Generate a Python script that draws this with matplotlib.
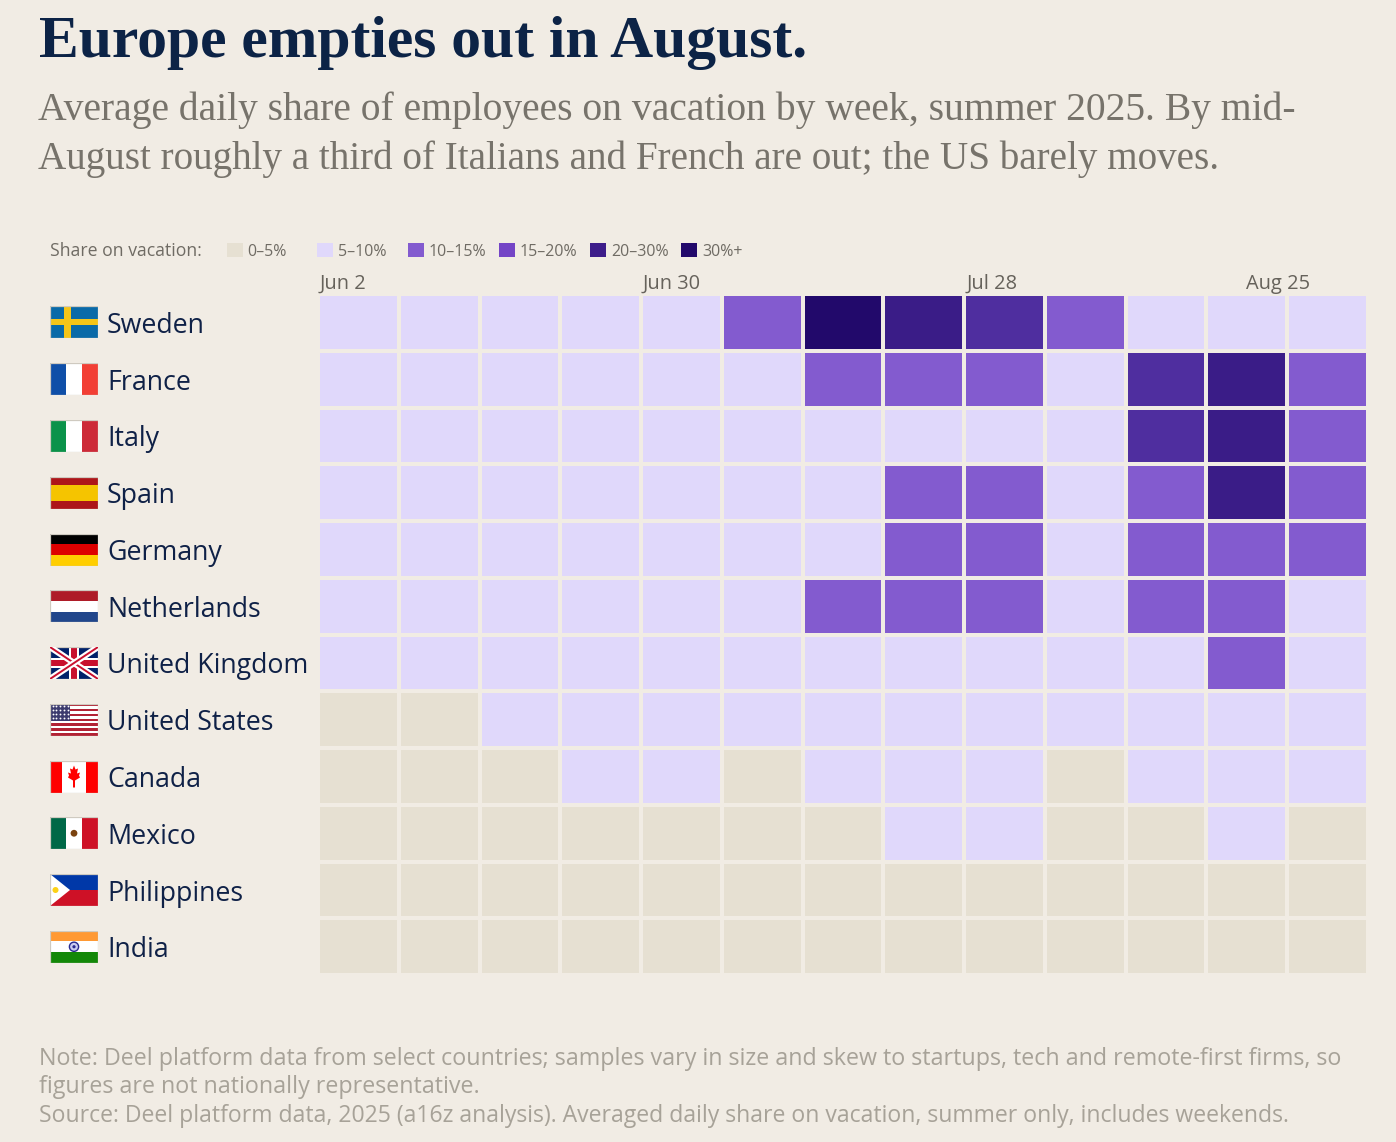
import matplotlib
matplotlib.use("Agg")
import matplotlib.pyplot as plt
import numpy as np
from matplotlib.colors import ListedColormap, BoundaryNorm
from matplotlib.patches import Rectangle, Polygon, Circle

W, H = 1396, 1142
BG = "#F1ECE4"
NAVY = "#0F2147"
SANS = "Open Sans"
SERIF = "Liberation Serif"

band_labels = ["0–5%", "5–10%", "10–15%", "15–20%", "20–30%", "30%+"]
band_colors = ["#E6E0D2", "#E0D8FB", "#835BCF", "#7445C6", "#3D1D8A", "#22096B"]
grid_colors = ["#E6E0D2", "#E0D8FB", "#835BCF", "#4F2E9F", "#3A1C87", "#22096B"]

countries = ["Sweden", "France", "Italy", "Spain", "Germany", "Netherlands",
             "United Kingdom", "United States", "Canada", "Mexico", "Philippines", "India"]
week_labels = {0: "Jun 2", 4: "Jun 30", 8: "Jul 28", 12: "Aug 25"}

# band index per week
sweden = [1, 1, 1, 1, 1, 2, 5, 4, 3, 2, 1, 1, 1]
france = [1, 1, 1, 1, 1, 1, 2, 2, 2, 1, 3, 4, 2]
italy = [1, 1, 1, 1, 1, 1, 1, 1, 1, 1, 3, 4, 2]
spain = [1, 1, 1, 1, 1, 1, 1, 2, 2, 1, 2, 4, 2]
germany = [1, 1, 1, 1, 1, 1, 1, 2, 2, 1, 2, 2, 2]
netherlands = [1, 1, 1, 1, 1, 1, 2, 2, 2, 1, 2, 2, 1]
uk = [1, 1, 1, 1, 1, 1, 1, 1, 1, 1, 1, 2, 1]
us = [0, 0, 1, 1, 1, 1, 1, 1, 1, 1, 1, 1, 1]
canada = [0, 0, 0, 1, 1, 0, 1, 1, 1, 0, 1, 1, 1]
mexico = [0, 0, 0, 0, 0, 0, 0, 1, 1, 0, 0, 1, 0]
philippines = [0] * 13
india = [0] * 13
rows = [sweden, france, italy, spain, germany, netherlands, uk, us, canada,
        mexico, philippines, india]

plt.rcParams["font.family"] = [SANS, "DejaVu Sans"]
fig = plt.figure(figsize=(W / 100, H / 100), dpi=100, facecolor=BG)
renderer = fig.canvas.get_renderer()


def px_axes(x0, y0, x1, y1):
    return fig.add_axes([x0 / W, 1 - y1 / H, (x1 - x0) / W, (y1 - y0) / H])


def ftext(x, y, s, **kw):
    return fig.text(x / W, 1 - y / H, s, va="baseline", ha="left", **kw)


def fit_size(s, width, **kw):
    # font size that makes s about width pixels wide
    t = fig.text(0, 0, s, fontsize=20, **kw)
    w = t.get_window_extent(renderer).width
    t.remove()
    return 20 * width / w


# heatmap
ax = px_axes(318, 294, 1368, 975)
ax.pcolormesh(np.array(rows), cmap=ListedColormap(grid_colors),
              norm=BoundaryNorm(np.arange(-0.5, 6), 6),
              edgecolors=BG, linewidth=2.8)
ax.set_ylim(len(rows), 0)
ax.set_xlim(0, 13)
ax.axis("off")

# week labels
week_size = fit_size("Jun 30", 58)
for i, lab in week_labels.items():
    x = 320 + 80.76 * i if i < 12 else 1246
    ftext(x, 289, lab, fontsize=week_size, color="#66625B")

# titles
title = "Europe empties out in August."
ftext(39, 57, title, family=SERIF, weight="bold",
      fontsize=fit_size(title, 771, family=SERIF, weight="bold"), color="#0C2346")
sub1 = "Average daily share of employees on vacation by week, summer 2025. By mid-"
sub2 = "August roughly a third of Italians and French are out; the US barely moves."
ftext(38, 120, sub1, family=SERIF, fontsize=fit_size(sub1, 1261, family=SERIF), color="#77736B")
ftext(38, 169, sub2, family=SERIF, fontsize=fit_size(sub2, 1181, family=SERIF), color="#77736B")

# legend
ftext(50, 255.5, "Share on vacation:", fontsize=fit_size("Share on vacation:", 151), color="#6F6B64")
legend_size = fit_size("15–20%", 58)
legend_x = [226.5, 317, 408, 499, 590, 681]
for x, c, lab in zip(legend_x, band_colors, band_labels):
    fig.patches.append(Rectangle((x / W, 1 - 257 / H), 16 / W, 14 / H, transform=fig.transFigure,
                                 facecolor=c, edgecolor="none"))
    ftext(x + 21, 255.5, lab, fontsize=legend_size, color="#6F6B64")


# flags
def stripes_h(a, cols, fracs=None):
    fracs = fracs or [1 / len(cols)] * len(cols)
    y = 0
    for c, f in zip(cols, fracs):
        a.add_patch(Rectangle((0, y), 48, 32 * f, fc=c, ec="none"))
        y += 32 * f


def stripes_v(a, cols, fracs=None):
    fracs = fracs or [1 / len(cols)] * len(cols)
    x = 0
    for c, f in zip(cols, fracs):
        a.add_patch(Rectangle((x, 0), 48 * f, 32, fc=c, ec="none"))
        x += 48 * f


def flag(a, name):
    if name == "Sweden":
        stripes_h(a, ["#0A6AA8"])
        a.add_patch(Rectangle((14, 0), 7, 32, fc="#F5C518", ec="none"))
        a.add_patch(Rectangle((0, 13), 48, 6, fc="#F5C518", ec="none"))
    elif name == "France":
        stripes_v(a, ["#0F4FA8", "#FFFFFF", "#F23F35"])
    elif name == "Italy":
        stripes_v(a, ["#0B924A", "#FFFFFF", "#CD2A38"])
    elif name == "Spain":
        stripes_h(a, ["#AD1519", "#F5C400", "#AD1519"], [0.25, 0.5, 0.25])
    elif name == "Germany":
        stripes_h(a, ["#000000", "#DD0000", "#FFCE00"])
    elif name == "Netherlands":
        stripes_h(a, ["#AE1C28", "#FFFFFF", "#21468B"])
    elif name == "United Kingdom":
        stripes_h(a, ["#012169"])
        for ys in ([0, 32], [32, 0]):
            a.plot([0, 48], ys, color="white", lw=4.5, solid_capstyle="butt")
            a.plot([0, 48], ys, color="#C8102E", lw=1.4, solid_capstyle="butt")
        a.add_patch(Rectangle((19, 0), 10, 32, fc="white", ec="none"))
        a.add_patch(Rectangle((0, 11), 48, 10, fc="white", ec="none"))
        a.add_patch(Rectangle((21, 0), 6, 32, fc="#C8102E", ec="none"))
        a.add_patch(Rectangle((0, 13), 48, 6, fc="#C8102E", ec="none"))
    elif name == "United States":
        stripes_h(a, ["#B22234", "#FFFFFF"] * 6 + ["#B22234"])
        a.add_patch(Rectangle((0, 0), 20, 17.2, fc="#3C3B6E", ec="none"))
        xs, ys = np.meshgrid(np.linspace(2.5, 17.5, 5), np.linspace(2.5, 14.5, 4))
        a.scatter(xs.ravel(), ys.ravel(), s=1.8, color="white", linewidths=0)
    elif name == "Canada":
        stripes_v(a, ["#FF0000", "#FFFFFF", "#FF0000"], [0.25, 0.5, 0.25])
        leaf = [(24, 5), (25.5, 9), (28, 8), (27, 13), (30, 12), (29, 15), (30, 17), (25, 20),
                (25, 27), (23, 27), (23, 20), (18, 17), (19, 15), (18, 12), (21, 13), (20, 8),
                (22.5, 9)]
        a.add_patch(Polygon(leaf, fc="#FF0000", ec="none"))
    elif name == "Mexico":
        stripes_v(a, ["#006847", "#FFFFFF", "#CE1126"])
        a.add_patch(Circle((24, 16), 3.4, fc="#7A4310", ec="none"))
    elif name == "Philippines":
        stripes_h(a, ["#0038A8", "#CE1126"])
        a.add_patch(Polygon([(0, 0), (20, 16), (0, 32)], fc="white", ec="none"))
        a.add_patch(Circle((5.5, 16), 3, fc="#FCD116", ec="none"))
    elif name == "India":
        stripes_h(a, ["#FF9933", "#FFFFFF", "#138808"])
        a.add_patch(Circle((24, 16), 4.6, fc="#C9CBEF", ec="#2A2A90", lw=1))
        a.add_patch(Circle((24, 16), 1.6, fc="#2A2A90", ec="none"))
    # thin light edge round every flag
    a.add_patch(Rectangle((0, 0), 48, 32, fc="none", ec="#CFCAC0", lw=0.9))


label_size = fit_size("United Kingdom", 201)
for i, name in enumerate(countries):
    yc = 322.5 + 56.75 * i
    fa = px_axes(50, yc - 16, 98, yc + 16)
    fa.set_xlim(0, 48)
    fa.set_ylim(32, 0)
    fa.axis("off")
    flag(fa, name)
    ftext(107, 333 + 56.75 * i, name, fontsize=label_size, color=NAVY)

# notes
note1 = "Note: Deel platform data from select countries; samples vary in size and skew to startups, tech and remote-first firms, so"
note2 = "figures are not nationally representative."
note3 = "Source: Deel platform data, 2025 (a16z analysis). Averaged daily share on vacation, summer only, includes weekends."
ftext(39, 1065, note1, fontsize=fit_size(note1, 1301), color="#A7A298")
ftext(39, 1093, note2, fontsize=fit_size(note2, 439), color="#A7A298")
ftext(39, 1122, note3, fontsize=fit_size(note3, 1245), color="#A7A298")

fig.savefig("out.png", dpi=100, facecolor=BG)
